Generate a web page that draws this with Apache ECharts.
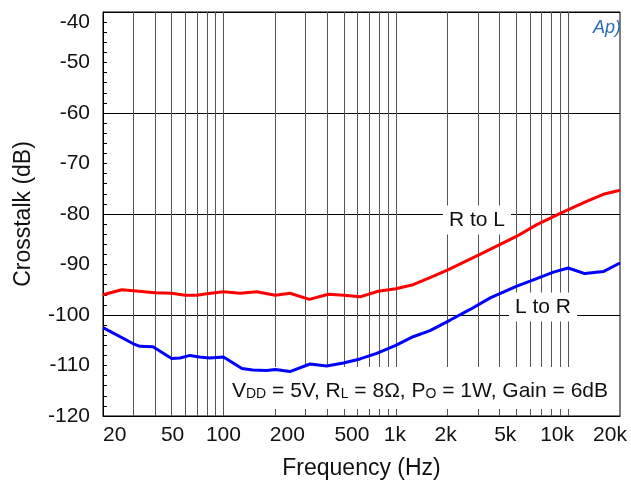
<!DOCTYPE html>
<html>
<head>
<meta charset="utf-8">
<style>
  html, body { margin: 0; padding: 0; background: #fff; }
  #chart { width: 631px; height: 486px; }
</style>
<script src="https://cdn.jsdelivr.net/npm/echarts@6/dist/echarts.min.js"></script>
</head>
<body>
<div id="chart"></div>
<script>
// ---- data ----
const freqRtoL = [20, 25.7, 30, 40, 50, 60, 70, 80, 100, 125, 156, 200, 243, 315, 406, 500, 620, 790, 1000, 1260, 1580, 2020, 3080, 5040, 6580, 9390, 12800, 16000, 20000];
const dbRtoL   = [-96.0, -95.0, -95.2, -95.6, -95.7, -96.1, -96.1, -95.8, -95.4, -95.7, -95.4, -96.1, -95.7, -96.9, -95.9, -96.1, -96.4, -95.3, -94.8, -94.0, -92.6, -91.0, -88.0, -84.4, -82.1, -79.6, -77.5, -76.1, -75.3];

const freqLtoR = [20, 30, 32.8, 39, 50, 56, 64, 72.5, 83, 100, 128, 148, 178, 200, 243, 318, 397, 496, 620, 775, 1000, 1260, 1580, 2070, 2700, 3530, 5040, 6020, 8220, 10000, 12500, 16000, 20000];
const dbLtoR   = [-102.5, -105.7, -106.2, -106.3, -108.6, -108.5, -108.0, -108.3, -108.5, -108.3, -110.6, -110.9, -111.0, -110.8, -111.2, -109.7, -110.1, -109.5, -108.7, -107.6, -106.0, -104.3, -103.1, -101.0, -98.9, -96.6, -94.3, -93.3, -91.5, -90.7, -91.8, -91.4, -89.7];

const xTickFreqs  = [20, 50, 100, 200, 500, 1000, 2000, 5000, 10000, 20000];
const xTickLabels = ['20', '50', '100', '200', '500', '1k', '2k', '5k', '10k', '20k'];
const xGridFreqs  = [30, 40, 50, 60, 70, 80, 90, 100, 200, 300, 400, 500, 600, 700, 800, 900,
                     1000, 2000, 3000, 4000, 5000, 6000, 7000, 8000, 9000, 10000];
const yMin = -120, yMax = -40;

// ---- layout: label nudges (px) to mimic the original's hand-placed tick labels ----
const xLabelNudge = [0, 1, 0, 12, 8, -1, -2, -11, -11, -10];

// ---- chart ----
const FONT = 'Liberation Sans, Arial, Helvetica, sans-serif';
const lg = v => Math.log10(v);
const pairs = (fs, ds) => fs.map((f, i) => [lg(f), ds[i]]);

const rich = {};
xLabelNudge.forEach((n, i) => {
  rich['n' + i] = {
    fontFamily: FONT, fontSize: 21, color: '#111',
    padding: n >= 0 ? [0, 0, 0, 2 * n] : [0, -2 * n, 0, 0]
  };
});

const chart = echarts.init(document.getElementById('chart'), null, { renderer: 'canvas' });

chart.setOption({
  animation: false,
  backgroundColor: '#fff',
  grid: { left: 103, right: 11, top: 12, height: 404, show: true, borderColor: '#000', borderWidth: 1, backgroundColor: 'transparent' },
  xAxis: {
    type: 'value',
    min: lg(20), max: lg(20000),
    name: 'Frequency (Hz)', nameLocation: 'middle', nameGap: 41,
    nameTextStyle: { fontFamily: FONT, fontSize: 23, color: '#111' },
    axisLine: { show: true, lineStyle: { color: '#000', width: 1 } },
    axisTick: { show: false, customValues: xGridFreqs.map(lg) },
    splitLine: { show: true, lineStyle: { color: '#555', width: 1 } },
    axisLabel: {
      customValues: xTickFreqs.map(lg),
      fontFamily: FONT, fontSize: 21, color: '#111', margin: 9,
      alignMinLabel: 'left',
      rich: rich,
      formatter: v => {
        const i = xTickFreqs.findIndex(f => Math.abs(lg(f) - v) < 1e-6);
        return i >= 0 ? '{n' + i + '|' + xTickLabels[i] + '}' : '';
      }
    }
  },
  yAxis: [
    {
      type: 'value', min: yMin, max: yMax, interval: 10,
      name: 'Crosstalk (dB)', nameLocation: 'middle', nameGap: 68,
      nameTextStyle: { fontFamily: FONT, fontSize: 23, color: '#111' },
      axisLine: { show: true, lineStyle: { color: '#000', width: 1 } },
      axisTick: { show: true, inside: true, length: 4, lineStyle: { color: '#000' } },
      minorTick: { show: true, splitNumber: 5, length: 4, lineStyle: { color: '#000' } },
      splitLine: { show: false },
      axisLabel: { fontFamily: FONT, fontSize: 21, color: '#111', margin: 13,
                   verticalAlignMaxLabel: 'top' }
    },
    {
      type: 'value', min: yMin, max: yMax, interval: 20, position: 'left',
      axisLine: { show: false }, axisTick: { show: false }, axisLabel: { show: false },
      splitLine: { show: true, lineStyle: { color: '#000', width: 1 } }
    }
  ],
  series: [
    {
      name: 'R to L', type: 'line', z: 10, showSymbol: false, symbol: 'none',
      lineStyle: { color: '#ff0000', width: 3 }, itemStyle: { color: '#ff0000' },
      data: pairs(freqRtoL, dbRtoL)
    },
    {
      name: 'L to R', type: 'line', z: 10, showSymbol: false, symbol: 'none',
      lineStyle: { color: '#0000ff', width: 3 }, itemStyle: { color: '#0000ff' },
      data: pairs(freqLtoR, dbLtoR)
    }
  ],
  graphic: [
    { type: 'text', z: 3, x: 477, y: 220,
      style: { text: 'R to L', font: '21px ' + FONT, fill: '#111', align: 'center', verticalAlign: 'middle',
               backgroundColor: '#fff', padding: [4, 6, 4, 6] } },
    { type: 'text', z: 3, x: 543, y: 307,
      style: { text: 'L to R', font: '21px ' + FONT, fill: '#111', align: 'center', verticalAlign: 'middle',
               backgroundColor: '#fff', padding: [4, 6, 4, 6] } },
    { type: 'rect', z: 3, shape: { x: 226, y: 367, width: 393, height: 42 }, style: { fill: '#fff' } },
    { type: 'text', z: 4, x: 232, y: 391,
      style: {
        text: 'V{s|DD} = 5V, R{s|L} = 8Ω, P{s|O} = 1W, Gain = 6dB',
        font: '21px ' + FONT, fill: '#111', align: 'left', verticalAlign: 'middle',
        rich: { s: { fontSize: 14, fontFamily: FONT, fill: '#111', verticalAlign: 'bottom' } }
      } },
    { type: 'text', z: 4, x: 607, y: 28,
      style: { text: 'Ap)', font: 'italic 18px ' + FONT, fill: '#2a6db5', align: 'center', verticalAlign: 'middle' } }
  ]
});
</script>
</body>
</html>
